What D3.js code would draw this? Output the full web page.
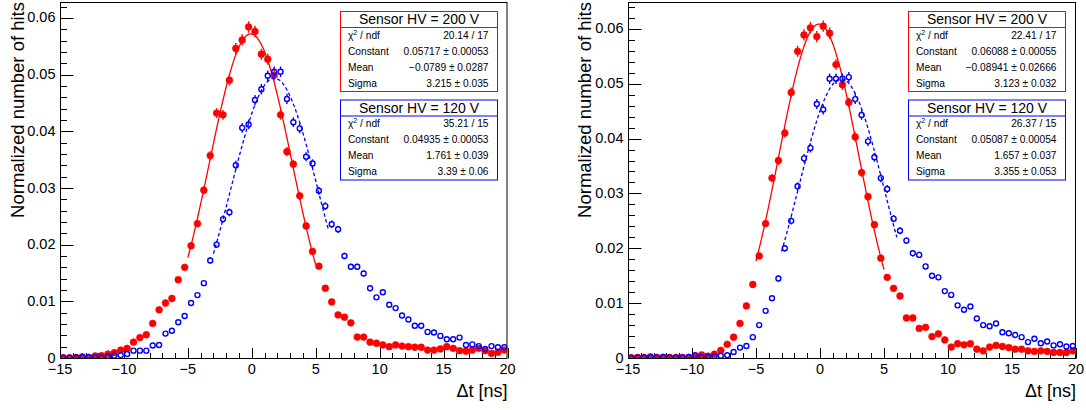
<!DOCTYPE html>
<html><head><meta charset="utf-8">
<script src="https://cdn.jsdelivr.net/npm/d3@7"></script>
<style>
body{margin:0;background:#fff}
svg{display:block}
text{font-family:"Liberation Sans",Arial,Helvetica,sans-serif;fill:#000}
</style>
</head><body>
<svg id="c" width="1086" height="410"></svg>
<script>
// ---------------- data ----------------
const binCenters = [-14.75,-14.25,-13.75,-13.25,-12.75,-12.25,-11.75,-11.25,-10.75,-10.25,
 -9.75,-9.25,-8.75,-8.25,-7.75,-7.25,-6.75,-6.25,-5.75,-5.25,
 -4.75,-4.25,-3.75,-3.25,-2.75,-2.25,-1.75,-1.25,-0.75,-0.25,
 0.25,0.75,1.25,1.75,2.25,2.75,3.25,3.75,4.25,4.75,
 5.25,5.75,6.25,6.75,7.25,7.75,8.25,8.75,9.25,9.75,
 10.25,10.75,11.25,11.75,12.25,12.75,13.25,13.75,14.25,14.75,
 15.25,15.75,16.25,16.75,17.25,17.75,18.25,18.75,19.25,19.75];

const xTicks = [-15,-10,-5,0,5,10,15,20];
const xTickLabels = ["\u221215","\u221210","\u22125","0","5","10","15","20"];
const yTicks = [0,0.01,0.02,0.03,0.04,0.05,0.06];
const yTickLabels = ["0","0.01","0.02","0.03","0.04","0.05","0.06"];

// left panel, Sensor HV = 200 V (red, filled)
const leftRed = [0.00005,0.0,0.0001,0.0002,0.00005,0.00035,0.0004,0.0007,0.00094,0.0014,
 0.0017,0.0028,0.0036,0.0041,0.0061,0.0085,0.0097,0.0105,0.0138,0.0160,
 0.0198,0.0237,0.0296,0.0357,0.0432,0.0429,0.0490,0.0546,0.0561,0.0584,
 0.0576,0.0536,0.0527,0.0499,0.0429,0.0364,0.0342,0.0286,0.0233,0.0188,
 0.0162,0.0123,0.0099,0.0076,0.0072,0.0062,0.0037,0.0037,0.0028,0.0026,
 0.0023,0.0020,0.0023,0.0021,0.0020,0.0019,0.0019,0.0014,0.0014,0.0016,
 0.0020,0.0017,0.0013,0.0012,0.0014,0.0017,0.0013,0.0008,0.0010,0.0014];
// left panel, Sensor HV = 120 V (blue, open)
const leftBlue = [0.00005,0.0001,0.0001,0.0002,0.0002,0.00015,0.0001,0.0003,0.0004,0.0005,
 0.0007,0.0013,0.0013,0.0013,0.0022,0.0023,0.0043,0.0048,0.0063,0.0074,
 0.0097,0.0111,0.0132,0.0172,0.0200,0.0245,0.0257,0.0340,0.0406,0.0412,
 0.0455,0.0474,0.0498,0.0505,0.0505,0.0457,0.0416,0.0405,0.0355,0.0343,
 0.0295,0.0268,0.0236,0.0227,0.0180,0.0161,0.0161,0.0149,0.0123,0.0107,
 0.0116,0.0094,0.0088,0.0075,0.0068,0.0057,0.0057,0.0046,0.0045,0.0039,
 0.0033,0.0033,0.0036,0.0023,0.0024,0.0021,0.0016,0.0021,0.0019,0.0019];
// right panel, Sensor HV = 200 V
const rightRed = [0.00005,0.0001,0.0001,0.0002,0.0001,0.0001,0.0001,0.0001,0.0001,0.0001,
 0.0002,0.00055,0.00035,0.0007,0.0014,0.0025,0.0038,0.0063,0.0095,0.0134,
 0.0186,0.0245,0.0328,0.0360,0.0410,0.0484,0.0559,0.0589,0.0602,0.0586,
 0.0605,0.0592,0.0535,0.0498,0.0466,0.0403,0.0338,0.0294,0.0243,0.0182,
 0.0147,0.0127,0.0113,0.0073,0.0073,0.0054,0.0056,0.0039,0.0044,0.0033,
 0.0020,0.0026,0.0024,0.0026,0.0016,0.0013,0.0020,0.0023,0.0021,0.0019,
 0.0016,0.0016,0.0013,0.0012,0.0013,0.0012,0.0010,0.0010,0.0010,0.0013];
// right panel, Sensor HV = 120 V
const rightBlue = [0.00005,0.0001,0.0001,0.0002,0.0001,0.0002,0.0001,0.0001,0.0001,0.0002,
 0.0005,0.0002,0.0002,0.0003,0.0004,0.0005,0.0011,0.0019,0.0022,0.0038,
 0.0060,0.0086,0.0109,0.0145,0.0200,0.0250,0.0313,0.0364,0.0383,0.0463,
 0.0453,0.0509,0.0509,0.0509,0.0512,0.0472,0.0443,0.0395,0.0366,0.0328,
 0.0308,0.0254,0.0232,0.0214,0.0191,0.0188,0.0167,0.0150,0.0147,0.0122,
 0.0115,0.0096,0.0088,0.0094,0.0072,0.0060,0.0058,0.0063,0.0047,0.0045,
 0.0042,0.0038,0.0029,0.0035,0.0027,0.0030,0.0023,0.0025,0.0021,0.0022];

// Gaussian fit parameters [Constant, Mean, Sigma]
const fitLeftRed = [0.05717, -0.0789, 3.215];
const fitLeftBlue = [0.04935, 1.761, 3.39];
const fitRightRed = [0.06088, -0.08941, 3.123];
const fitRightBlue = [0.05087, 1.657, 3.355];
const fitRangeRed = [-5, 5];
const fitRangeBlue = [-3, 6];

// statistics boxes
const statTitles = ["Sensor HV = 200 V", "Sensor HV = 120 V"];
const statLabels = ["chi2", "Constant", "Mean", "Sigma"];
const statsLeftRed = ["20.14 / 17", "0.05717 \u00b1 0.00053", "\u22120.0789 \u00b1 0.0287", "3.215 \u00b1 0.035"];
const statsLeftBlue = ["35.21 / 15", "0.04935 \u00b1 0.00053", "1.761 \u00b1 0.039", "3.39 \u00b1 0.06"];
const statsRightRed = ["22.41 / 17", "0.06088 \u00b1 0.00055", "\u22120.08941 \u00b1 0.02666", "3.123 \u00b1 0.032"];
const statsRightBlue = ["26.37 / 15", "0.05087 \u00b1 0.00054", "1.657 \u00b1 0.037", "3.355 \u00b1 0.053"];

const xTitle = "\u0394t [ns]";
const yTitle = "Normalized number of hits";

// ---------------- drawing ----------------
const RED = "#ff0000", BLUE = "#0000ff";
const errScale = 0.0042; // statistical error ~ sqrt(content)

const panels = [
  {left:60, right:507.5, top:2, bottom:358, yMax:0.0628, yTitleX:24,
   red:leftRed, blue:leftBlue, fitR:fitLeftRed, fitB:fitLeftBlue,
   boxX:340, sR:statsLeftRed, sB:statsLeftBlue},
  {left:628, right:1076, top:2, bottom:358, yMax:0.0649, yTitleX:590.5,
   red:rightRed, blue:rightBlue, fitR:fitRightRed, fitB:fitRightBlue,
   boxX:908, sR:statsRightRed, sB:statsRightBlue}
];

const svg = d3.select("#c");

function gauss(p, x){ return p[0]*Math.exp(-0.5*Math.pow((x-p[1])/p[2],2)); }

panels.forEach(P => {
  const g = svg.append("g");
  const x = d3.scaleLinear().domain([-15,20]).range([P.left, P.right]);
  const y = d3.scaleLinear().domain([0,P.yMax]).range([P.bottom, P.top]);

  // frame
  g.append("rect").attr("x",P.left+0.5).attr("y",P.top+0.5)
    .attr("width",P.right-P.left-1).attr("height",P.bottom-P.top)
    .attr("fill","none").attr("stroke","#000").attr("stroke-width",1);

  // x axis (ticks pointing up)
  const xMinor = d3.range(-15,20.001,1).filter(v => xTicks.indexOf(v) < 0);
  const xa = g.append("g").attr("transform",`translate(0,${P.bottom+0.5})`);
  xa.selectAll("line.maj").data(xTicks).join("line")
    .attr("x1",d=>Math.round(x(d))+0.5).attr("x2",d=>Math.round(x(d))+0.5)
    .attr("y1",0).attr("y2",-10.5).attr("stroke","#000");
  xa.selectAll("line.min").data(xMinor).join("line").attr("class","min")
    .attr("x1",d=>Math.round(x(d))+0.5).attr("x2",d=>Math.round(x(d))+0.5)
    .attr("y1",0).attr("y2",-5.5).attr("stroke","#000");
  xa.selectAll("text").data(xTicks).join("text")
    .attr("x",d=>x(d)).attr("y",15.5).attr("text-anchor","middle")
    .attr("font-size","14.5px").text((d,i)=>xTickLabels[i]);

  // y axis (ticks pointing right)
  const yMinor = d3.range(0,P.yMax,0.002).filter(v => Math.abs(v/0.01 - Math.round(v/0.01))>1e-6);
  const ya = g.append("g").attr("transform",`translate(${P.left+0.5},0)`);
  ya.selectAll("line.maj").data(yTicks).join("line").attr("class","maj")
    .attr("y1",d=>Math.round(y(d))+0.5).attr("y2",d=>Math.round(y(d))+0.5)
    .attr("x1",0).attr("x2",13).attr("stroke","#000");
  ya.selectAll("line.min").data(yMinor).join("line").attr("class","min")
    .attr("y1",d=>Math.round(y(d))+0.5).attr("y2",d=>Math.round(y(d))+0.5)
    .attr("x1",0).attr("x2",6.5).attr("stroke","#000");
  ya.selectAll("text").data(yTicks).join("text")
    .attr("x",-5).attr("y",d=>y(d)+4.6).attr("text-anchor","end")
    .attr("font-size","14.5px").text((d,i)=>yTickLabels[i]);

  // axis titles
  g.append("text").attr("x",P.right).attr("y",397).attr("text-anchor","end")
    .attr("font-size","18px").text(xTitle);
  g.append("text").attr("transform",`translate(${P.yTitleX},${P.top}) rotate(-90)`)
    .attr("text-anchor","end").attr("font-size","18.5px").text(yTitle);

  const clip = "clip"+P.left;
  svg.append("clipPath").attr("id",clip).append("rect")
    .attr("x",P.left).attr("y",P.top).attr("width",P.right-P.left).attr("height",P.bottom-P.top);
  const plot = g.append("g").attr("clip-path",`url(#${clip})`);

  function drawSeries(vals, color, filled, fit, range, dashed){
    const r = filled ? 3.4 : 2.5;
    const pts = binCenters.map((c,i)=>({c, v:vals[i], e:errScale*Math.sqrt(vals[i])}));
    const sg = plot.append("g");
    // error bars (outside marker)
    pts.forEach(p=>{
      const cx = x(p.c), cy = y(p.v);
      const top = y(p.v+p.e), bot = y(Math.max(0,p.v-p.e));
      if (cy - top > r) sg.append("line").attr("x1",cx).attr("x2",cx).attr("y1",cy-r).attr("y2",top)
          .attr("stroke",color).attr("stroke-width",1.4);
      if (bot - cy > r) sg.append("line").attr("x1",cx).attr("x2",cx).attr("y1",cy+r).attr("y2",bot)
          .attr("stroke",color).attr("stroke-width",1.4);
    });
    sg.selectAll("circle").data(pts).join("circle")
      .attr("cx",d=>x(d.c)).attr("cy",d=>y(d.v)).attr("r",r)
      .attr("fill",filled?color:"none").attr("stroke",color).attr("stroke-width",filled?0.6:1.4);
    // fit curve
    const xs = d3.range(range[0], range[1]+0.0001, 0.05);
    const line = d3.line().x(d=>x(d)).y(d=>y(gauss(fit,d)));
    sg.append("path").attr("d",line(xs)).attr("fill","none").attr("stroke",color)
      .attr("stroke-width",1.3).attr("stroke-dasharray",dashed?"3.5,2.5":null);
  }
  drawSeries(P.red, RED, true, P.fitR, fitRangeRed, false);
  drawSeries(P.blue, BLUE, false, P.fitB, fitRangeBlue, true);

  // stat boxes
  function statBox(bx, by, color, title, vals){
    const w = 157, h = 80, rowH = h/5;
    const b = g.append("g");
    b.append("rect").attr("x",bx+0.5).attr("y",by+0.5).attr("width",w).attr("height",h)
      .attr("fill","#fff").attr("stroke",color).attr("stroke-width",1);
    b.append("line").attr("x1",bx+0.5).attr("x2",bx+w+0.5).attr("y1",by+rowH+0.5).attr("y2",by+rowH+0.5)
      .attr("stroke",color).attr("stroke-width",1);
    b.append("text").attr("x",bx+w/2+0.5).attr("y",by+rowH/2+5.2).attr("text-anchor","middle")
      .attr("font-size","14px").text(title);
    statLabels.forEach((lab,i)=>{
      const yy = by + rowH*(i+1) + rowH/2 + 3.8;
      const t = b.append("text").attr("x",bx+8).attr("y",yy).attr("font-size","10.2px");
      if (lab === "chi2"){
        t.append("tspan").text("\u03c7");
        t.append("tspan").attr("dy",-4).attr("font-size","7px").text("2");
        t.append("tspan").attr("dy",4).text(" / ndf");
      } else t.text(lab);
      b.append("text").attr("x",bx+w-8.5).attr("y",yy).attr("text-anchor","end")
        .attr("font-size","10.2px").text(vals[i]);
    });
  }
  statBox(P.boxX, 11, RED, statTitles[0], P.sR);
  statBox(P.boxX, 99.5, BLUE, statTitles[1], P.sB);
});
</script>
</body></html>
